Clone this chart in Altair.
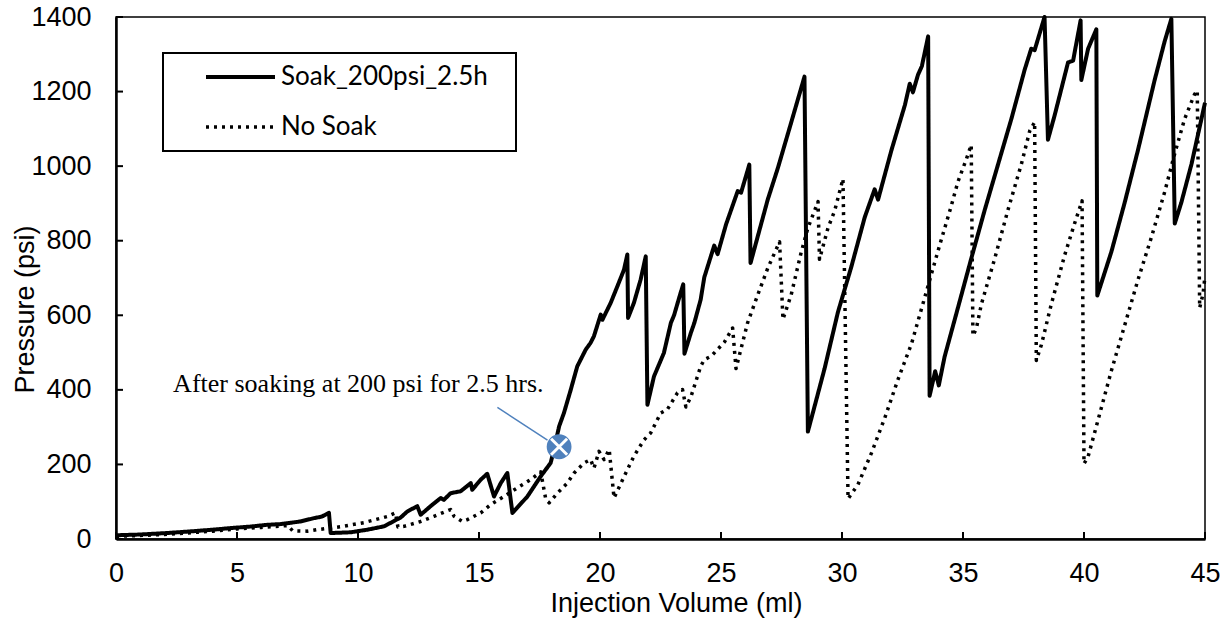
import altair as alt
import pandas as pd

series_names = ["Soak_200psi_2.5h", "No Soak"]

soak_x = [0, 1, 2.1, 3, 4, 4.86, 5.5, 6.24, 6.8, 7.62,
          8.18, 8.5, 8.8, 8.87, 9.7, 10.39, 11.08, 11.77, 12.04, 12.45,
          12.59, 13.0, 13.42, 13.55, 13.83, 14.24, 14.66, 14.72, 15.07, 15.34,
          15.62, 15.9, 16.17, 16.38, 17.0, 17.55, 17.96, 18.1, 18.31, 18.51,
          18.79, 19.06, 19.41, 19.61, 19.75, 20.03, 20.1, 20.44, 20.72, 20.99,
          21.13, 21.16, 21.4, 21.68, 21.89, 21.96, 22.23, 22.64, 22.93, 23.06,
          23.33, 23.44, 23.49, 23.75, 23.9, 24.16, 24.31, 24.72, 24.86, 25.21,
          25.69, 25.83, 26.17, 26.22, 26.93, 27.35, 27.9, 28.45, 28.59, 29.28,
          29.83, 30.39, 30.94, 31.35, 31.49, 32.04, 32.6, 32.8, 32.93, 33.14,
          33.3, 33.56, 33.62, 33.85, 34.0, 34.24, 34.79, 35.34, 35.9, 36.45,
          37.0, 37.55, 37.82, 37.96, 38.37, 38.51, 38.79, 39.34, 39.55, 39.86,
          39.89, 40.17, 40.51, 40.55, 41.13, 41.68, 42.23, 42.92, 43.33, 43.61,
          43.75, 44.02, 44.44, 45.0]
soak_y = [10, 12, 16, 20, 25, 30, 33, 38, 40, 47,
          56, 60, 70, 16, 18, 25, 34, 58, 74, 88,
          65, 88, 110, 105, 123, 128, 150, 132, 159, 175,
          114, 150, 177, 70, 114, 168, 204, 240, 302, 338,
          400, 463, 508, 526, 544, 602, 588, 633, 678, 722,
          763, 593, 633, 696, 758, 360, 436, 499, 580, 600,
          660, 683, 497, 552, 580, 642, 702, 787, 764, 844,
          933, 929, 1004, 740, 910, 995, 1117, 1240, 288, 457,
          608, 731, 863, 938, 910, 1042, 1164, 1221, 1198, 1245,
          1268, 1348, 384, 450, 412, 489, 620, 752, 883, 1005,
          1127, 1259, 1315, 1311, 1400, 1071, 1137, 1278, 1283, 1391,
          1231, 1315, 1367, 653, 770, 902, 1043, 1231, 1334, 1395,
          846, 902, 1005, 1170]

nosoak_x = [0, 2, 4, 5, 6, 7.1, 7.3, 7.9, 8.3, 9.3,
            10.25, 11.2, 11.55, 11.65, 11.9, 12.59, 13.14, 13.83, 13.97, 14.31,
            14.52, 15.07, 15.48, 16.03, 16.58, 17.13, 17.55, 17.75, 17.9, 18.24,
            18.65, 18.93, 19.34, 19.61, 19.75, 19.96, 20.17, 20.38, 20.58, 21.0,
            21.4, 21.82, 22.09, 22.51, 22.78, 23.2, 23.41, 23.55, 23.76, 24.16,
            24.31, 24.59, 25.14, 25.48, 25.62, 26.1, 26.52, 26.93, 27.42, 27.56,
            27.9, 28.31, 28.59, 29.01, 29.07, 29.42, 29.7, 30.04, 30.25, 30.66,
            31.22, 31.77, 32.32, 32.87, 33.45, 34.0, 34.5, 34.79, 35.14, 35.34,
            35.41, 35.55, 35.76, 36.31, 36.86, 37.41, 37.76, 37.96, 38.03, 38.24,
            38.65, 39.2, 39.61, 39.92, 40.0, 40.17, 40.58, 41.13, 41.68, 42.23,
            42.78, 43.33, 43.75, 44.16, 44.57, 44.68, 44.78, 44.92, 45.0]
nosoak_y = [7, 12, 21, 27, 31, 36, 22, 21, 25, 33,
            44, 60, 70, 32, 34, 47, 61, 79, 61, 47,
            52, 70, 92, 114, 137, 159, 180, 110, 97, 123,
            150, 177, 204, 213, 190, 235, 213, 240, 110, 168,
            222, 266, 284, 338, 347, 392, 401, 354, 382, 463,
            481, 490, 528, 566, 457, 580, 655, 726, 797, 589,
            655, 768, 834, 905, 750, 834, 881, 966, 108, 146,
            231, 325, 429, 523, 655, 780, 890, 958, 1019, 1057,
            545, 564, 630, 752, 883, 1005, 1095, 1118, 479, 521,
            630, 761, 846, 907, 202, 221, 319, 451, 573, 695,
            808, 930, 1034, 1127, 1193, 1203, 620, 658, 705]

x_ticks = [0, 5, 10, 15, 20, 25, 30, 35, 40, 45]
y_ticks = [0, 200, 400, 600, 800, 1000, 1200, 1400]

note_text = ["After soaking at 200 psi for 2.5 hrs."]
note_x = [2.36]
note_y = [395]
arrow_x = [15.76]
arrow_y = [353]
arrow_x2 = [17.83]
arrow_y2 = [265.5]
marker_x = [18.31]
marker_y = [247.5]

W, H = 1089, 522
BLUE = "#4F81BD"

df = pd.concat([
    pd.DataFrame({"x": soak_x, "y": soak_y, "series": series_names[0], "i": range(len(soak_x))}),
    pd.DataFrame({"x": nosoak_x, "y": nosoak_y, "series": series_names[1], "i": range(len(nosoak_x))}),
])

xs = alt.Scale(domain=[0, 45], nice=False, zero=False)
ys = alt.Scale(domain=[0, 1400], nice=False)
x_axis = alt.Axis(values=x_ticks, title="Injection Volume (ml)", labelPadding=21, format="d",
                  labelFlush=False, labelOverlap=False,
                  titleX=560, titleY=72, titleBaseline="alphabetic", titleAlign="center")
y_axis = alt.Axis(values=y_ticks, title="Pressure (psi)", labelPadding=25, format="d",
                  labelFlush=False, labelOverlap=False,
                  titleX=-91, titleY=292, titleBaseline="middle", titleAlign="center")

lines = alt.Chart(df).mark_line(color="black", strokeJoin="round").encode(
    x=alt.X("x:Q", scale=xs, axis=x_axis),
    y=alt.Y("y:Q", scale=ys, axis=y_axis),
    strokeDash=alt.StrokeDash("series:N", scale=alt.Scale(domain=series_names, range=[[1, 0], [3, 5]]),
        legend=alt.Legend(title=".", titleOrient="right", titleColor="white", titleFontSize=8,
                          titlePadding=14, orient="none", legendX=47, legendY=36,
                          symbolType="stroke", symbolSize=4761, symbolStrokeWidth=3,
                          symbolStrokeColor="black", symbolOffset=30, labelOffset=4,
                          labelFont="Lato", labelFontSize=26, labelColor="black",
                          labelLimit=600, clipHeight=26, rowPadding=24, padding=11,
                          strokeColor="black", fillColor="white")),
    strokeWidth=alt.StrokeWidth("series:N", scale=alt.Scale(domain=series_names, range=[4, 3.5]), legend=None),
    detail="series:N",
    order="i:Q",
)

xt = alt.Chart(pd.DataFrame({"x": x_ticks})).mark_rule(color="black", strokeWidth=2).encode(
    x=alt.X("x:Q", scale=xs, axis=x_axis), y=alt.value(H), y2=alt.value(H - 7))
yt = alt.Chart(pd.DataFrame({"y": y_ticks})).mark_rule(color="black", strokeWidth=2).encode(
    y=alt.Y("y:Q", scale=ys, axis=y_axis), x=alt.value(0), x2=alt.value(7))

ann = pd.DataFrame({"tx": note_x, "ty": note_y, "text": note_text,
                    "ax": arrow_x, "ay": arrow_y, "ax2": arrow_x2, "ay2": arrow_y2,
                    "mx": marker_x, "my": marker_y})

note = alt.Chart(ann).mark_text(font="Liberation Serif", fontSize=26, align="left",
                                baseline="alphabetic", color="black").encode(
    x=alt.X("tx:Q", scale=xs, axis=x_axis), y=alt.Y("ty:Q", scale=ys, axis=y_axis), text="text:N")
arrow = alt.Chart(ann).mark_rule(color=BLUE, strokeWidth=1.5).encode(
    x=alt.X("ax:Q", scale=xs, axis=x_axis), y=alt.Y("ay:Q", scale=ys, axis=y_axis), x2="ax2:Q", y2="ay2:Q")
marker = alt.Chart(ann).mark_point(shape="circle", filled=True, color=BLUE, size=616, opacity=1).encode(
    x=alt.X("mx:Q", scale=xs, axis=x_axis), y=alt.Y("my:Q", scale=ys, axis=y_axis))
cross = alt.Chart(ann).mark_point(shape="M-1,-1L1,1M-1,1L1,-1", filled=False, stroke="white",
                                  strokeWidth=3, size=256, opacity=1).encode(
    x=alt.X("mx:Q", scale=xs, axis=x_axis), y=alt.Y("my:Q", scale=ys, axis=y_axis))

chart = alt.layer(lines, xt, yt, arrow, note, marker, cross).properties(
    width=W, height=H,
    autosize=alt.AutoSizeParams(type="none"),
    padding={"left": 116, "top": 17, "right": 23, "bottom": 82},
).configure_view(stroke="black", strokeWidth=1.5).configure_axis(
    grid=False, ticks=False, tickSize=0, domainColor="black", domainWidth=2.5,
    labelFont="Liberation Sans", labelFontSize=27, labelColor="black",
    titleFont="Liberation Sans", titleFontSize=27, titleFontWeight="normal", titleColor="black",
).configure_legend(strokeWidth=2)

chart.save("out.html", embed_options={"renderer": "svg", "actions": False})
